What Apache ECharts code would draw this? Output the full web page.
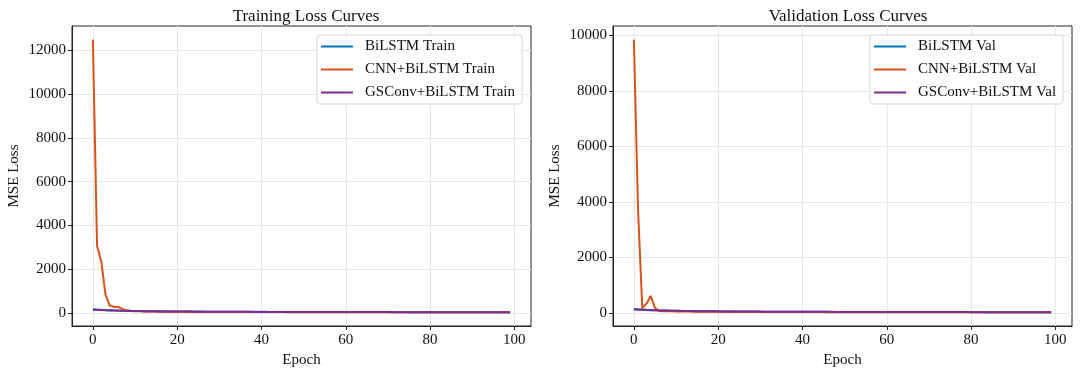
<!DOCTYPE html>
<html>
<head>
<meta charset="utf-8">
<script src="https://cdn.jsdelivr.net/npm/echarts@6/dist/echarts.min.js"></script>
<style>
html,body{margin:0;padding:0;background:#fff;}
#chart{width:1080px;height:374px;}
</style>
</head>
<body>
<div id="chart"></div>
<script>
// ---- Data ----
const trainBiLSTM = [
  160,148,137,127,118,110,103,97,92,87,
  83,79,76,73,70,68,66,64,62,60,
  58,57,56,55,54,53,52,51,50,49,
  48,47,46,46,45,44,44,43,42,42,
  41,41,40,40,39,39,38,38,37,37,
  36,36,36,35,35,34,34,34,33,33,
  33,32,32,32,31,31,31,30,30,30,
  30,29,29,29,29,28,28,28,28,27,
  27,27,27,27,26,26,26,26,26,25,
  25,25,25,25,25,24,24,24,24,24
];
const trainCNNBiLSTM = [
  12500,3060,2340,830,330,270,265,180,110,85,
  74,68,63,59,56,53,51,49,47,45,
  44,43,42,41,40,39,38,37,37,36,
  35,35,34,34,33,33,32,32,31,31,
  30,30,30,29,29,29,28,28,28,27,
  27,27,27,26,26,26,26,25,25,25,
  25,24,24,24,24,23,23,23,23,23,
  22,22,22,22,22,22,21,21,21,21,
  21,21,20,20,20,20,20,20,19,19,
  19,19,19,19,19,18,18,18,18,18
];
const trainGSConvBiLSTM = [
  140,131,123,115,108,102,96,91,86,82,
  78,75,72,69,66,64,62,60,58,56,
  55,54,53,52,51,50,49,48,47,46,
  45,45,44,43,43,42,41,41,40,40,
  39,39,38,38,37,37,36,36,35,35,
  35,34,34,34,33,33,33,32,32,32,
  31,31,31,31,30,30,30,29,29,29,
  29,28,28,28,28,28,27,27,27,27,
  27,26,26,26,26,26,25,25,25,25,
  25,25,24,24,24,24,24,24,23,23
];
const valBiLSTM = [
  135,126,118,110,103,97,91,86,82,78,
  74,71,68,65,63,61,59,57,55,54,
  52,51,50,49,48,47,46,45,44,44,
  43,42,42,41,40,40,39,39,38,38,
  37,37,36,36,36,35,35,34,34,34,
  33,33,33,32,32,32,31,31,31,31,
  30,30,30,30,29,29,29,29,28,28,
  28,28,28,27,27,27,27,27,26,26,
  26,26,26,26,25,25,25,25,25,25,
  24,24,24,24,24,24,24,23,23,23
];
const valCNNBiLSTM = [
  9850,3700,170,330,610,180,70,60,56,53,
  50,48,46,44,42,41,40,39,38,37,
  37,36,35,35,34,33,33,32,32,31,
  31,30,30,30,29,29,28,28,28,27,
  27,27,26,26,26,26,25,25,25,25,
  24,24,24,24,24,23,23,23,23,23,
  22,22,22,22,22,22,21,21,21,21,
  21,21,20,20,20,20,20,20,20,19,
  19,19,19,19,19,19,18,18,18,18,
  18,18,18,18,18,17,17,17,17,17
];
const valGSConvBiLSTM = [
  120,113,107,101,96,91,87,83,79,76,
  73,70,67,65,63,61,59,57,56,54,
  53,52,51,50,49,48,47,46,45,44,
  44,43,42,42,41,40,40,39,39,38,
  38,37,37,36,36,35,35,35,34,34,
  33,33,33,32,32,32,31,31,31,30,
  30,30,30,29,29,29,29,28,28,28,
  28,27,27,27,27,26,26,26,26,26,
  25,25,25,25,25,25,24,24,24,24,
  24,24,23,23,23,23,23,23,22,22
];
const xTicks = [0, 20, 40, 60, 80, 100];
const yTicksTrain = [0, 2000, 4000, 6000, 8000, 10000, 12000];
const yTicksVal = [0, 2000, 4000, 6000, 8000, 10000];
const titles = ['Training Loss Curves', 'Validation Loss Curves'];
const trainNames = ['BiLSTM Train', 'CNN+BiLSTM Train', 'GSConv+BiLSTM Train'];
const valNames = ['BiLSTM Val', 'CNN+BiLSTM Val', 'GSConv+BiLSTM Val'];
const colors = ['#0072BD', '#D95319', '#7E2F8E'];

// ---- Helpers ----
const FONT = '"Liberation Serif", "Times New Roman", serif';
const toPairs = arr => arr.map((v, i) => [i, v]);
function limits(arrs) {
  let mn = Infinity, mx = -Infinity;
  arrs.forEach(a => a.forEach(v => { if (v < mn) mn = v; if (v > mx) mx = v; }));
  const r = mx - mn;
  return [mn - 0.05 * r, mx + 0.05 * r];
}
const nEp = trainBiLSTM.length;
const xMin = -0.05 * (nEp - 1), xMax = (nEp - 1) * 1.05;
const trainLim = limits([trainBiLSTM, trainCNNBiLSTM, trainGSConvBiLSTM]);
const valLim = limits([valBiLSTM, valCNNBiLSTM, valGSConvBiLSTM]);

const axisLineStyle = { color: '#222', width: 1 };
const splitStyle = { show: true, lineStyle: { color: '#e6e6e6', width: 1 } };
const plain = v => String(Math.round(v));

function xAxis(gi) {
  return {
    type: 'value', gridIndex: gi, min: xMin, max: xMax,
    name: 'Epoch', nameLocation: 'middle', nameGap: 25,
    nameTextStyle: { fontFamily: FONT, fontSize: 15, color: '#111' },
    axisLine: { show: true, onZero: false, lineStyle: axisLineStyle },
    axisTick: { show: true, length: 4, lineStyle: axisLineStyle, customValues: xTicks },
    axisLabel: { customValues: xTicks, formatter: plain, fontFamily: FONT, fontSize: 15, color: '#111', margin: 7 },
    splitLine: splitStyle
  };
}
function yAxis(gi, lim, ticks) {
  return {
    type: 'value', gridIndex: gi, min: lim[0], max: lim[1],
    name: 'MSE Loss', nameLocation: 'middle', nameGap: 50, nameRotate: 90,
    nameTextStyle: { fontFamily: FONT, fontSize: 15, color: '#111' },
    axisLine: { show: true, onZero: false, lineStyle: axisLineStyle },
    axisTick: { show: true, length: 4, lineStyle: axisLineStyle, customValues: ticks },
    axisLabel: { customValues: ticks, formatter: plain, fontFamily: FONT, fontSize: 15, color: '#111', margin: 6 },
    splitLine: splitStyle
  };
}
function mkSeries(names, arrs, gi) {
  return names.map((n, k) => ({
    name: n, type: 'line', xAxisIndex: gi, yAxisIndex: gi,
    data: toPairs(arrs[k]), showSymbol: false, symbol: 'none',
    lineStyle: { color: colors[k], width: 2 }, itemStyle: { color: colors[k] },
    z: 2 + k, animation: false
  }));
}
function legend(names, left) {
  return {
    data: names, orient: 'vertical', left: left, top: 35,
    icon: 'rect', itemWidth: 32, itemHeight: 2, itemGap: 6,
    backgroundColor: 'rgba(255,255,255,0.85)', borderColor: '#d5d5d5', borderWidth: 1, borderRadius: 3,
    padding: [3, 7, 3, 4],
    textStyle: { fontFamily: FONT, fontSize: 15, color: '#111', lineHeight: 17, padding: [0, 0, 0, 7] }
  };
}

const option = {
  backgroundColor: '#fff',
  animation: false,
  title: [
    { text: titles[0], left: 301, top: 3, textAlign: 'center', textStyle: { fontFamily: FONT, fontSize: 17, fontWeight: 'normal', color: '#111' } },
    { text: titles[1], left: 843, top: 3, textAlign: 'center', textStyle: { fontFamily: FONT, fontSize: 17, fontWeight: 'normal', color: '#111' } }
  ],
  grid: [
    { left: 72, right: 549, top: 26, bottom: 48, show: true, borderColor: '#222', borderWidth: 1, backgroundColor: 'transparent' },
    { left: 613, right: 8, top: 26, bottom: 48, show: true, borderColor: '#222', borderWidth: 1, backgroundColor: 'transparent' }
  ],
  xAxis: [xAxis(0), xAxis(1)],
  yAxis: [yAxis(0, trainLim, yTicksTrain), yAxis(1, valLim, yTicksVal)],
  legend: [legend(trainNames, 317), legend(valNames, 870)],
  series: [
    ...mkSeries(trainNames, [trainBiLSTM, trainCNNBiLSTM, trainGSConvBiLSTM], 0),
    ...mkSeries(valNames, [valBiLSTM, valCNNBiLSTM, valGSConvBiLSTM], 1)
  ]
};
const chart = echarts.init(document.getElementById('chart'), null, { renderer: 'canvas' });
chart.setOption(option);
</script>
</body>
</html>
